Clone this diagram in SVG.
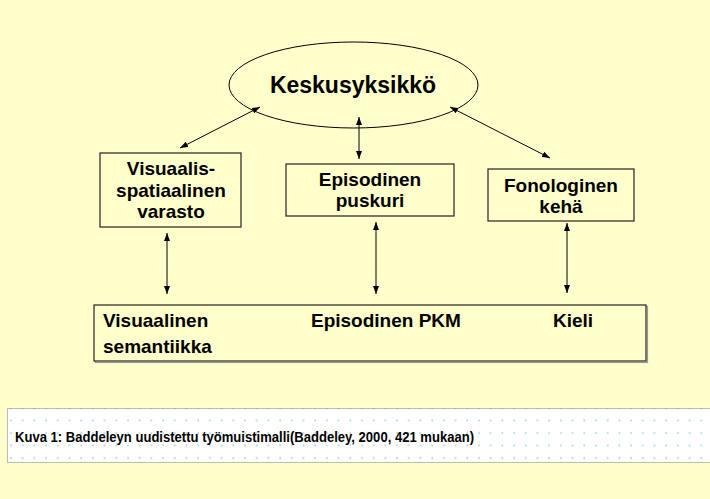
<svg xmlns="http://www.w3.org/2000/svg" width="710" height="499" viewBox="0 0 710 499">
<style>
.bg{fill:#FFFFCC}
.box{fill:#FFFFCC;stroke:#222;stroke-width:1.2}
.shadow{fill:none;stroke:#999;stroke-width:1.2}
.t{font-family:"Liberation Sans",Arial,sans-serif;font-weight:bold;fill:#000}
.c{text-anchor:middle;font-size:19px}
.conn line{stroke:#000;stroke-width:1;marker-start:url(#ah);marker-end:url(#ah)}
</style>
<defs>
<marker id="ah" viewBox="0 0 8 6" refX="8" refY="3" markerWidth="8" markerHeight="6" markerUnits="userSpaceOnUse" orient="auto-start-reverse">
<path d="M0,0 L8,3 L0,6 z" fill="#000"/>
</marker>
<pattern id="dots" width="11.7" height="12.5" patternUnits="userSpaceOnUse" x="5" y="2">
<circle cx="6" cy="6" r="0.9" fill="#9ccde0"/>
</pattern>
</defs>
<rect class="bg" x="0" y="0" width="710" height="499"/>

<g id="keskusyksikko">
<ellipse cx="353.5" cy="85" rx="124.5" ry="43" fill="none" stroke="#000" stroke-width="1"/>
<text class="t" x="353" y="93" text-anchor="middle" font-size="23">Keskusyksikkö</text>
</g>

<g id="visuaalis">
<rect class="box" x="100" y="153" width="141" height="74"/>
<text class="t c" x="171" y="175">Visuaalis-</text>
<text class="t c" x="171" y="197">spatiaalinen</text>
<text class="t c" x="171" y="218">varasto</text>
</g>

<g id="episodinen">
<rect class="box" x="286" y="164" width="168" height="52"/>
<text class="t c" x="370" y="186">Episodinen</text>
<text class="t c" x="370" y="207">puskuri</text>
</g>

<g id="fonologinen">
<rect class="box" x="488" y="169" width="146" height="52"/>
<text class="t c" x="561" y="192">Fonologinen</text>
<text class="t c" x="561" y="213">kehä</text>
</g>

<g id="pkm">
<rect class="shadow" x="95.5" y="306.5" width="552" height="56"/>
<rect class="box" x="94" y="305" width="552" height="56"/>
<text class="t" x="103" y="327" font-size="19">Visuaalinen</text>
<text class="t" x="103" y="353" font-size="19">semantiikka</text>
<text class="t" x="311" y="327" font-size="19">Episodinen PKM</text>
<text class="t" x="553" y="327" font-size="19">Kieli</text>
</g>

<g class="conn" id="connectors">
<line x1="260" y1="107" x2="180" y2="148"/>
<line x1="359" y1="117" x2="359" y2="159"/>
<line x1="450" y1="107" x2="550" y2="158"/>
<line x1="167" y1="233" x2="167" y2="294"/>
<line x1="376" y1="222" x2="376" y2="294"/>
<line x1="567" y1="223" x2="567" y2="293"/>
</g>

<g id="caption">
<rect x="7" y="408" width="710" height="55" fill="#FFFFFF"/>
<rect x="7" y="408" width="710" height="55" fill="url(#dots)"/>
<rect x="7.5" y="408.5" width="710" height="54" fill="none" stroke="#777" stroke-width="1" stroke-dasharray="1,1"/>
<text class="t" x="15" y="442" font-size="15.5" textLength="459" lengthAdjust="spacingAndGlyphs">Kuva 1: Baddeleyn uudistettu työmuistimalli(Baddeley, 2000, 421 mukaan)</text>
</g>
</svg>
